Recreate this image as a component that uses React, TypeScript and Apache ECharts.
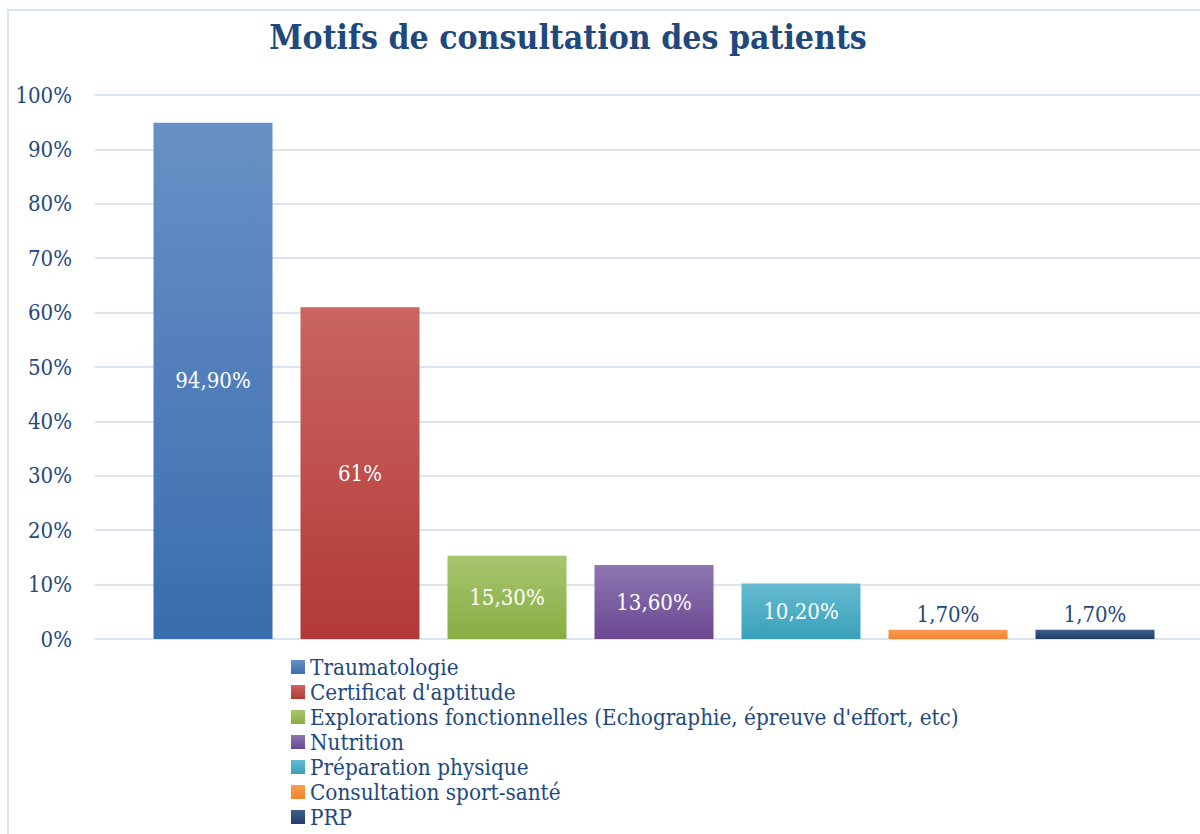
import React, { useEffect, useRef } from "react";
import * as echarts from "echarts";

const categories = [
  "Traumatologie",
  "Certificat d'aptitude",
  "Explorations fonctionnelles (Echographie, épreuve d'effort, etc)",
  "Nutrition",
  "Préparation physique",
  "Consultation sport-santé",
  "PRP",
];
const values = [94.9, 61, 15.3, 13.6, 10.2, 1.7, 1.7];
const valueLabels = ["94,90%", "61%", "15,30%", "13,60%", "10,20%", "1,70%", "1,70%"];
const yTicks = [0, 10, 20, 30, 40, 50, 60, 70, 80, 90, 100];

const gradients: [string, string][] = [
  ["#6890C6", "#3A6DAF"],
  ["#CA6562", "#B23937"],
  ["#A7C56E", "#88AD43"],
  ["#8E76B0", "#6A4892"],
  ["#66BBD0", "#38A0BB"],
  ["#FB9C52", "#EF852E"],
  ["#40608B", "#1E3E69"],
];

const FONT = "'DejaVu Serif Condensed', 'DejaVu Serif', serif";
const DARK = "#1F497D";

export default function App() {
  const ref = useRef<HTMLDivElement>(null);
  useEffect(() => {
    if (!ref.current) return;
    const chart = echarts.init(ref.current, null, { renderer: "svg" });
    const series = categories.map((name, i) => {
      const inside = values[i] > 5;
      return {
        name,
        type: "bar",
        xAxisIndex: 1,
        yAxisIndex: 1,
        stack: "all",
        barWidth: 119,
        data: values.map((v, j) => (j === i ? v : null)),
        itemStyle: {
          color: new echarts.graphic.LinearGradient(0, 0, 0, 1, [
            { offset: 0, color: gradients[i][0] },
            { offset: 1, color: gradients[i][1] },
          ]),
        },
        label: {
          show: true,
          position: inside ? "inside" : "top",
          distance: 4,
          formatter: () => valueLabels[i],
          color: inside ? "#FFFFFF" : DARK,
          fontSize: 22,
          fontFamily: FONT,
        },
      };
    });
    chart.setOption({
      animation: false,
      textStyle: { fontFamily: FONT },
      title: {
        text: "Motifs de consultation des patients",
        left: 563,
        textAlign: "center",
        top: 15,
        textStyle: { fontSize: 33.5, fontWeight: "bold", color: DARK, fontFamily: FONT },
      },
      graphic: [
        {
          type: "rect",
          shape: { x: 8, y: 10, width: 1300, height: 1000 },
          style: { fill: "none", stroke: "#DAE5F3", lineWidth: 2 },
          silent: true,
        },
      ],
      legend: {
        orient: "vertical",
        left: 291,
        top: 654.5,
        height: 190,
        padding: 0,
        icon: "rect",
        itemWidth: 14,
        itemHeight: 14,
        itemGap: 0,
        selectedMode: false,
        data: categories,
        textStyle: { fontSize: 22.3, lineHeight: 25, color: DARK, fontFamily: FONT },
      },
      grid: [
        { left: 95, top: 95, width: 1118, height: 544 },
        { left: 139.5, top: 95, width: 1029, height: 544 },
      ],
      xAxis: [
        { type: "value", gridIndex: 0, show: false, min: 0, max: 1 },
        {
          type: "category",
          gridIndex: 1,
          data: categories,
          axisLine: { show: false },
          axisTick: { show: false },
          axisLabel: { show: false },
        },
      ],
      yAxis: [
        {
          type: "value",
          gridIndex: 0,
          min: yTicks[0],
          max: yTicks[yTicks.length - 1],
          interval: 10,
          axisLine: { show: false },
          axisTick: { show: false },
          axisLabel: { formatter: "{value}%", fontSize: 22, color: DARK, margin: 23, fontFamily: FONT },
          splitLine: { lineStyle: { color: "#DAE5F3", width: 2 } },
        },
        { type: "value", gridIndex: 1, show: false, min: 0, max: 100 },
      ],
      series,
    });
    return () => chart.dispose();
  }, []);
  return (
    <div
      ref={ref}
      style={{ position: "fixed", left: 0, top: 0, width: 1200, height: 834, background: "#FFFFFF" }}
    />
  );
}
